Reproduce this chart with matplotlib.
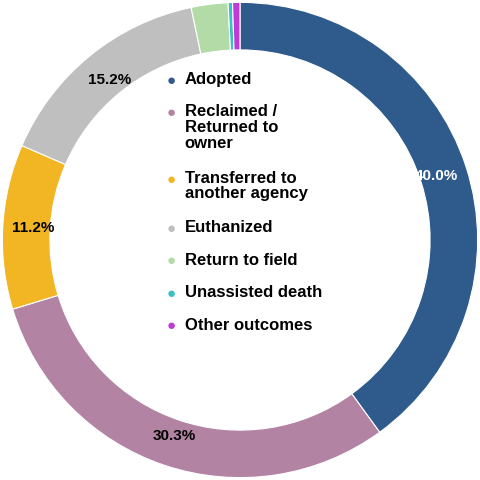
import matplotlib.pyplot as plt

plt.rcParams['font.family'] = ['Liberation Sans', 'DejaVu Sans']

labels = ['Adopted', 'Reclaimed /\nReturned to\nowner', 'Transferred to\nanother agency',
          'Euthanized', 'Return to field', 'Unassisted death', 'Other outcomes']
values = [40.0, 30.3, 11.2, 15.2, 2.5, 0.3, 0.5]
colors = ['#2E5A8C', '#B383A4', '#F2B624', '#BFBFBF', '#B3DBA8', '#3BBFC9', '#C03BD6']
pct_colors = ['white', 'black', 'black', 'black', 'black', 'black', 'black']

fig = plt.figure(figsize=(4.8, 4.8), dpi=100)
ax = fig.add_axes([0, 0, 1, 1])

wedges, texts, autotexts = ax.pie(values, colors=colors, startangle=90, counterclock=False,
                                  radius=1, wedgeprops=dict(width=0.2, edgecolor='white', linewidth=0.8),
                                  autopct=lambda p: f'{p:.1f}%' if p > 5 else '', pctdistance=0.87)
for t, c in zip(autotexts, pct_colors):
    t.set_color(c)
    t.set_fontsize(11)
    t.set_fontweight('bold')

ax.set_xlim(-1.01, 1.01)
ax.set_ylim(-1.01, 1.01)
ax.set_aspect('equal')

# legend drawn by hand so the marker sits on the first line of each label
y = 0.832
line_h = 0.0355
for lab, c in zip(labels, colors):
    fig.text(0.357, y, '\u25CF', color=c, fontsize=11, ha='center', va='center')
    fig.text(0.385, y, lab, fontsize=12, fontweight='bold', ha='left', va='top',
             linespacing=1.05, transform=fig.transFigure).set_y(y + 0.018)
    y -= line_h * (lab.count('\n') + 1) + 0.032

plt.savefig('out.png', dpi=100)
